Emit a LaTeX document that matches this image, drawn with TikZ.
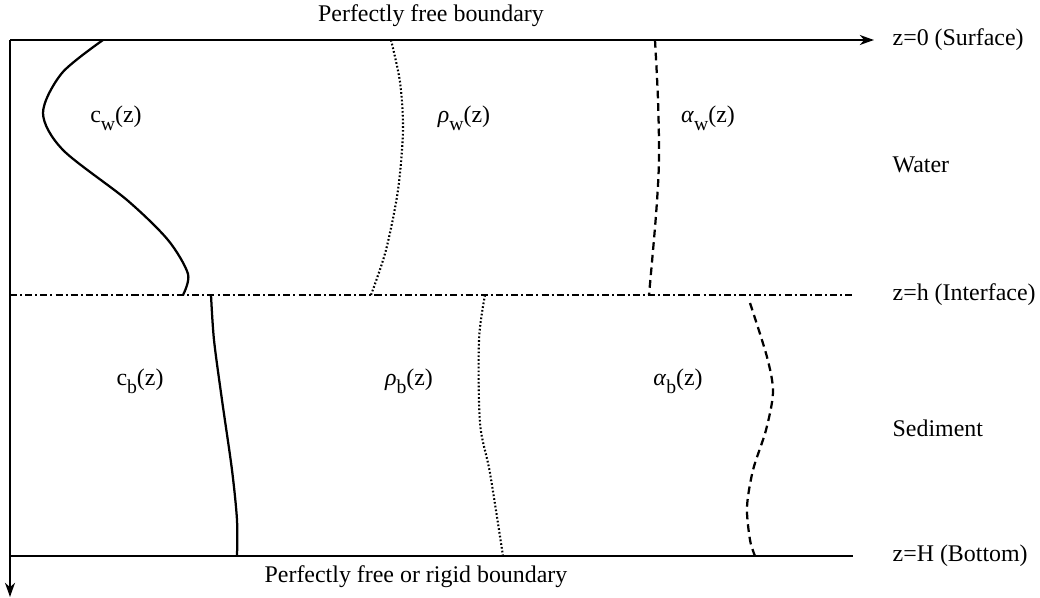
\documentclass[tikz,border=0pt]{standalone}
\usepackage{fontspec}
\setmainfont{Liberation Serif}
\usetikzlibrary{arrows.meta}

\newcommand{\sub}[1]{\raisebox{-0.7ex}{\fontsize{14}{15}\selectfont #1}}

\begin{document}
\begin{tikzpicture}[x=0.025cm, y=-0.025cm,
    lbl/.style={font=\fontsize{17}{20}\selectfont, inner sep=1pt},
    side/.style={lbl, anchor=west},
    bnd/.style={line width=1.6pt},
    arr/.style={bnd, -{Stealth[length=10pt, width=7pt, inset=3pt]}},
    iface/.style={line width=1.6pt, dash pattern=on 5pt off 2.2pt on 1.4pt off 2.2pt},
    cline/.style={line width=1.6pt},
    rholine/.style={line width=1.5pt, dash pattern=on 1.2pt off 1.5pt},
    alphaline/.style={line width=1.6pt, dash pattern=on 5.5pt off 3.5pt}
  ]
  \useasboundingbox (0,0) rectangle (1040,598);

  % frame
  \coordinate (top0) at (10,40);
  \coordinate (topE) at (874,40);
  \coordinate (ifL)  at (10,295);
  \coordinate (ifR)  at (853,295);
  \coordinate (botL) at (10,556);
  \coordinate (botR) at (853,556);
  \coordinate (axE)  at (10,597);

  \draw[arr] (top0) -- (topE);
  \draw[arr] (top0) -- (axE);
  \draw[iface] (ifL) -- (ifR);
  \draw[bnd] (botL) -- (botR);

  % profiles, water
  \draw[cline] plot[smooth] coordinates {(103,40) (62,73) (43,113) (63,150)
    (127,200) (168,240) (188,274) (183,295)};
  \draw[rholine] plot[smooth] coordinates {(391,40) (400,82) (403,130) (398,190) (386,250) (371,295)};
  \draw[alphaline] plot[smooth] coordinates {(655,40) (658,100) (659,160) (656,215) (649,295)};

  % profiles, sediment
  \draw[cline] plot[smooth] coordinates {(211,295) (214,340) (222,400) (232,470) (237,520) (237,556)};
  \draw[rholine] plot[smooth] coordinates {(485,295) (479,340) (480,423) (490,473) (503,556)};
  \draw[alphaline] plot[smooth] coordinates {(750,303) (767,357) (773,392) (766,430)
    (753,470) (747,507) (750,540) (755,556)};

  % labels
  \node[lbl] (cw)   at (116,118) {c\sub{w}(z)};
  \node[lbl] (rhow) at (464,118) {\textit{ρ}\sub{w}(z)};
  \node[lbl] (alw)  at (708,118) {\textit{α}\sub{w}(z)};
  \node[lbl] (cb)   at (140,381) {c\sub{b}(z)};
  \node[lbl] (rhob) at (409,381) {\textit{ρ}\sub{b}(z)};
  \node[lbl] (alb)  at (678,381) {\textit{α}\sub{b}(z)};

  \node[lbl] (free)  at (431,16)  {Perfectly free boundary};
  \node[lbl] (rigid) at (416,577) {Perfectly free or rigid boundary};

  \node[side] (surf)  at (891,40)  {z=0 (Surface)};
  \node[side] (water) at (891,165) {Water};
  \node[side] (intf)  at (891,295) {z=h (Interface)};
  \node[side] (sed)   at (891,428) {Sediment};
  \node[side] (bott)  at (891,556) {z=H (Bottom)};
\end{tikzpicture}
\end{document}
